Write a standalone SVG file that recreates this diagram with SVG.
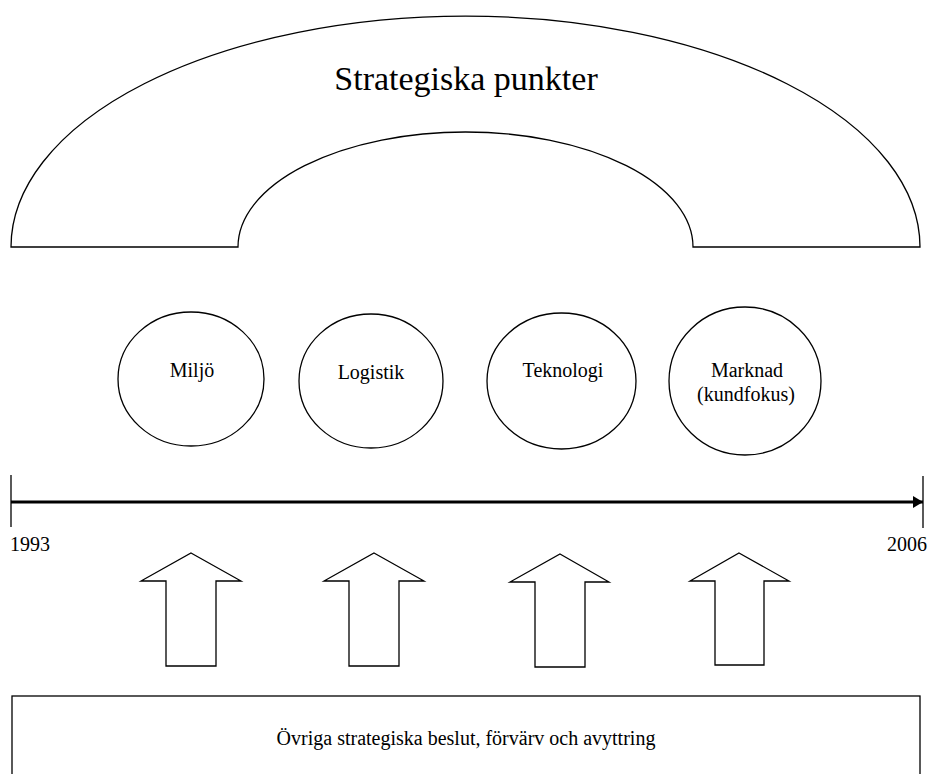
<svg xmlns="http://www.w3.org/2000/svg" width="932" height="774" viewBox="0 0 932 774">
<style>
.s{fill:#fff;stroke:#000;stroke-width:1.3}
.t{font-family:"Liberation Serif","Times New Roman",serif;fill:#000;text-anchor:middle}
</style>
<defs>
<marker id="ah" markerWidth="10" markerHeight="12" refX="10" refY="6" orient="auto" markerUnits="userSpaceOnUse">
<path d="M0,0 L10,6 L0,12 Z" fill="#000"/>
</marker>
</defs>
<rect width="932" height="774" fill="#fff"/>
<g id="arch">
<path class="s" d="M11,247 A454.5,231 0 0 1 920,247 L693,247 A227.5,115 0 0 0 238,247 Z"/>
<text class="t" x="466" y="90" font-size="34">Strategiska punkter</text>
</g>
<g id="miljo">
<ellipse class="s" cx="191" cy="379" rx="73" ry="67"/>
<text class="t" x="192" y="377" font-size="20">Miljö</text>
</g>
<g id="logistik">
<ellipse class="s" cx="371" cy="381" rx="72" ry="67"/>
<text class="t" x="371" y="379" font-size="20">Logistik</text>
</g>
<g id="teknologi">
<ellipse class="s" cx="561.5" cy="381" rx="74.5" ry="68"/>
<text class="t" x="563" y="377" font-size="20">Teknologi</text>
</g>
<g id="marknad">
<ellipse class="s" cx="745" cy="381" rx="76" ry="74"/>
<text class="t" x="747" y="377" font-size="20">Marknad</text>
<text class="t" x="746" y="401" font-size="20">(kundfokus)</text>
</g>
<g id="timeline">
<line x1="11" y1="475" x2="11" y2="527" stroke="#000" stroke-width="1.3"/>
<line x1="923" y1="476" x2="923" y2="528" stroke="#000" stroke-width="1.3"/>
<line x1="11" y1="502" x2="923" y2="502" stroke="#000" stroke-width="3" marker-end="url(#ah)"/>
<text class="t" x="30" y="551" font-size="20">1993</text>
<text class="t" x="907" y="551" font-size="20">2006</text>
</g>
<g id="connectors">
<path class="s" d="M191,553 L241,581 L216,581 L216,666 L166,666 L166,581 L141,581 Z"/>
<path class="s" d="M374,553 L424,581 L399,581 L399,666 L349,666 L349,581 L324,581 Z"/>
<path class="s" d="M560,554 L609,582 L585,582 L585,667 L535,667 L535,582 L510,582 Z"/>
<path class="s" d="M739,553 L789,581 L764,581 L764,665 L715,665 L715,581 L690,581 Z"/>
</g>
<g id="ovriga">
<rect class="s" x="12" y="696" width="908" height="80"/>
<text class="t" x="466" y="745" font-size="20">Övriga strategiska beslut, förvärv och avyttring</text>
</g>
</svg>
